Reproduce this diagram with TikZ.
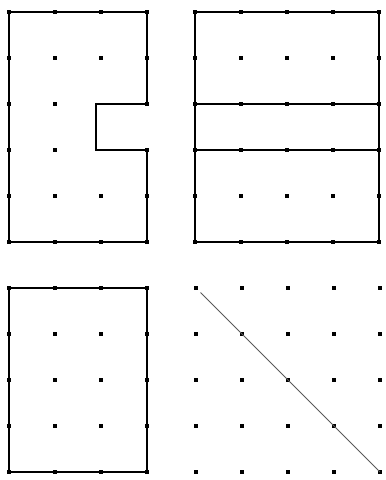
\documentclass[tikz,border=0pt]{standalone}
\usepackage{tikz}
\usetikzlibrary{positioning}
\begin{document}
\begin{tikzpicture}[x=1cm, y=-1cm,
		dot/.style={rectangle, fill=black, inner sep=0pt, minimum size=2.2pt},
		outline/.style={line width=1.3pt, line join=miter},
		diag/.style={line width=0.6pt, black!65}]
	\useasboundingbox (0,0) rectangle (8.391,10.435);
	% top left: notched shape
	\begin{scope}[shift={(0.196,0.261)}]
		\draw[outline] (0,0) -- (3,0) -- (3,2) -- (1.9,2) -- (1.9,3) -- (3,3) -- (3,5) -- (0,5) -- cycle;
		\foreach \x in {0,1,3}
			\foreach \y in {0,...,5}
				\node[dot] (a-\x-\y) at (\x,\y) {};
		\foreach \y in {0,1,4,5}
			\node[dot] (a-2-\y) at (2,\y) {};
	\end{scope}
	% top right: rectangle with two bars
	\begin{scope}[shift={(4.239,0.261)}]
		\draw[outline] (0,0) rectangle (4,5);
		\draw[outline] (0,2) -- (4,2);
		\draw[outline] (0,3) -- (4,3);
		\foreach \x in {0,...,4}
			\foreach \y in {0,...,5}
				\node[dot] (b-\x-\y) at (\x,\y) {};
	\end{scope}
	% bottom left: plain rectangle
	\begin{scope}[shift={(0.196,6.261)}]
		\draw[outline] (0,0) rectangle (3,4);
		\foreach \x in {0,...,3}
			\foreach \y in {0,...,4}
				\node[dot] (c-\x-\y) at (\x,\y) {};
	\end{scope}
	% bottom right: dot grid with diagonal
	\begin{scope}[shift={(4.261,6.261)}]
		\foreach \x in {0,...,4}
			\foreach \y in {0,...,4}
				\node[dot] (d-\x-\y) at (\x,\y) {};
		\draw[diag, shorten <=4pt] (d-0-0.center) -- (d-4-4.center);
	\end{scope}
\end{tikzpicture}
\end{document}
